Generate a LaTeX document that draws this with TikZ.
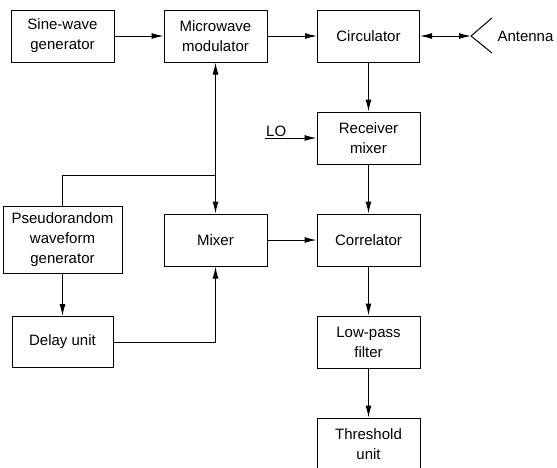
\documentclass[tikz,border=0pt]{standalone}
\usepackage{fontspec}
\setmainfont{Liberation Sans}
\usepackage{tikz}
\usetikzlibrary{arrows.meta, positioning}
\tikzstyle{block} = [rectangle, minimum width=103pt, minimum height=52pt, inner sep=0pt, align=center, draw=black, line width=1pt, font=\fontsize{15}{20}\selectfont]
\tikzstyle{arrow} = [line width=1pt, -{Latex[length=12pt,width=6pt]}]
\tikzstyle{wire} = [line width=1pt]

\begin{document}
\begin{tikzpicture}[node distance=153pt]
    \useasboundingbox (0,0) rectangle (557pt,-467pt);
    % Nodes
    \node (sine) [block] at (62.5pt,-36pt) {Sine-wave\\generator};
    \node (mod) [block, right of=sine] {Microwave\\modulator};
    \node (circ) [block, right of=mod, minimum width=102pt] {Circulator};
    \node (recv) [block, below of=circ, yshift=51pt] {Receiver\\mixer};
    \node (corr) [block, below of=recv, yshift=51pt] {Correlator};
    \node (lpf) [block, below of=corr, yshift=51pt] {Low-pass\\filter};
    \node (thr) [block, below of=lpf, yshift=51pt] {Threshold\\unit};
    \node (mixer) [block, left of=corr] {Mixer};
    \node (pseudo) [block, left of=mixer, minimum width=119pt, minimum height=67pt] {Pseudorandom\\waveform\\generator};
    \node (delay) [block, below of=pseudo, yshift=51pt, minimum width=101pt, minimum height=51pt] {Delay unit};
    \coordinate (ant) at (471pt,-36pt);
    \node (antlabel) [anchor=west, font=\fontsize{15}{20}\selectfont] at (494pt,-36pt) {Antenna};
    \coordinate (lo) at (265pt,-138pt);
    \node (lolabel) [anchor=south west, inner sep=1pt, font=\fontsize{15}{20}\selectfont] at (lo) {LO};

    % Arrows
    \draw [arrow] (sine) -- (mod);
    \draw [arrow] (mod) -- (circ);
    \draw [line width=1pt, {Latex[length=12pt,width=6pt]}-{Latex[length=12pt,width=6pt]}] (circ) -- (ant);
    \draw [wire] (ant) -- ++(21pt,18pt);
    \draw [wire] (ant) -- ++(21pt,-17pt);
    \draw [arrow] (circ) -- (recv);
    \draw [arrow] (lo) -- (recv);
    \draw [arrow] (recv) -- (corr);
    \draw [arrow] (corr) -- (lpf);
    \draw [arrow] (lpf) -- (thr);
    \draw [arrow] (mixer) -- (corr);
    \draw [arrow] (pseudo) -- (delay);
    \draw [arrow] (pseudo.north) -- ++(0,31pt) coordinate (tap) -| (mixer.north);
    \draw [arrow] (tap -| mod.south) -- (mod.south);
    \draw [arrow] (delay.east) -| (mixer.south);

    \end{tikzpicture}
\end{document}
